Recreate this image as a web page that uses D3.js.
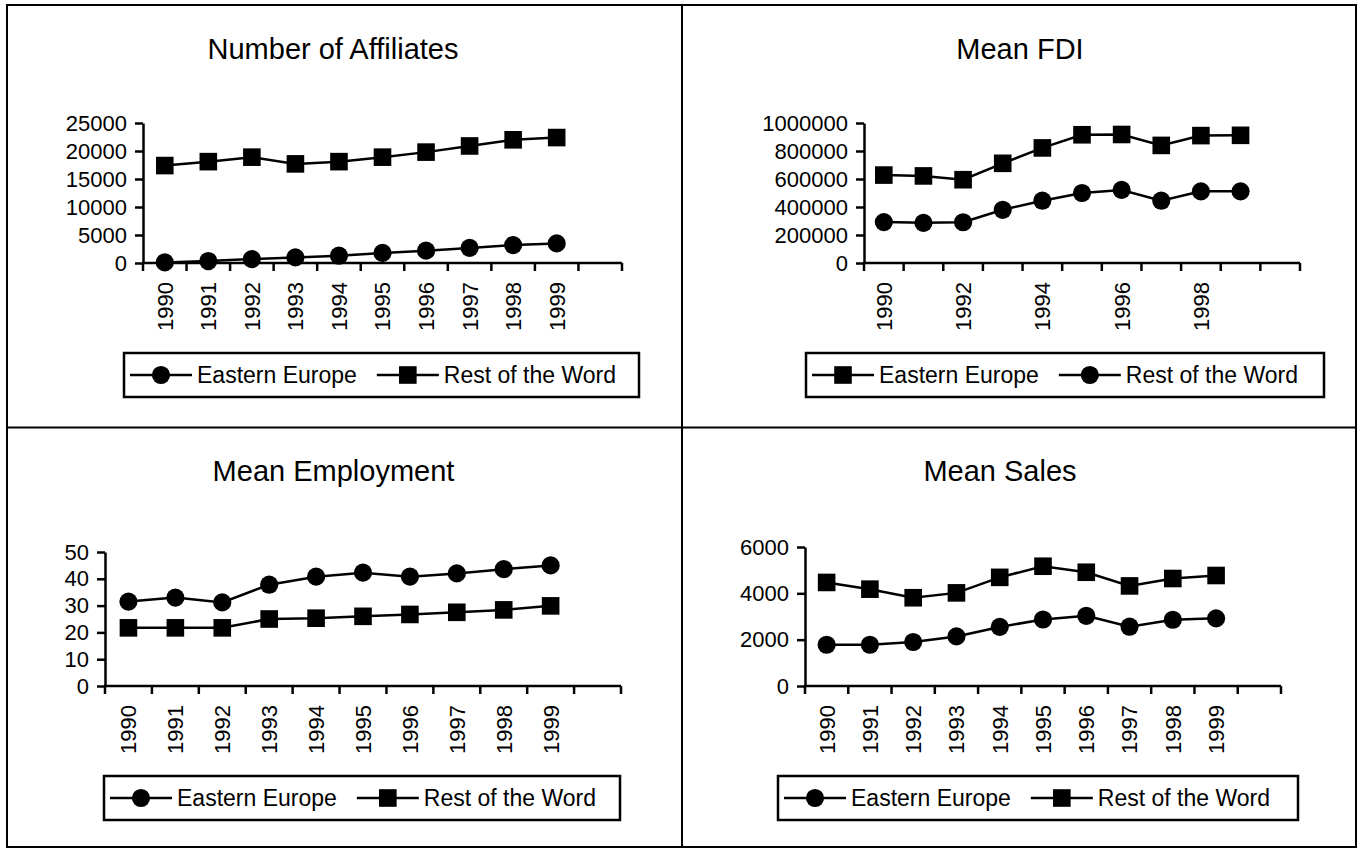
<!DOCTYPE html>
<html>
<head>
<meta charset="utf-8">
<script src="https://cdn.jsdelivr.net/npm/d3@7"></script>
<style>
  body { margin: 0; background: #fff; }
  svg { display: block; font-family: "Liberation Sans", Arial, sans-serif; }
</style>
</head>
<body>
<div id="chart"></div>
<script>
// Data
const years = ['1990', '1991', '1992', '1993', '1994', '1995', '1996', '1997', '1998', '1999'];
const seriesNames = ['Eastern Europe', 'Rest of the Word'];

const affiliatesEE  = [100, 350, 700, 1000, 1300, 1800, 2200, 2700, 3200, 3500];
const affiliatesRoW = [17400, 18100, 18900, 17700, 18100, 18900, 19800, 20900, 22000, 22400];
const affiliatesTicks = [0, 5000, 10000, 15000, 20000, 25000];

const fdiEE  = [628000, 622000, 595000, 712000, 822000, 916000, 918000, 840000, 910000, 912000];
const fdiRoW = [292000, 287000, 291000, 380000, 445000, 500000, 522000, 445000, 512000, 512000];
const fdiTicks = [0, 200000, 400000, 600000, 800000, 1000000];

const employmentEE  = [31.5, 33, 31.2, 37.8, 40.8, 42.3, 40.8, 42, 43.6, 45];
const employmentRoW = [21.7, 21.7, 21.7, 25, 25.3, 26, 26.7, 27.5, 28.4, 29.9];
const employmentTicks = [0, 10, 20, 30, 40, 50];

const salesEE  = [1780, 1780, 1900, 2140, 2550, 2870, 3030, 2560, 2860, 2920];
const salesRoW = [4470, 4180, 3810, 4020, 4690, 5170, 4910, 4320, 4640, 4770];
const salesTicks = [0, 2000, 4000, 6000];

const W = 1363, H = 851;

const svg = d3.select('#chart')
  .append('svg')
  .attr('width', W)
  .attr('height', H);

// outer frame and the two dividers
svg.append('rect')
  .attr('x', 7).attr('y', 5)
  .attr('width', 1349).attr('height', 842)
  .attr('fill', 'none').attr('stroke', '#000').attr('stroke-width', 2);
svg.append('line')
  .attr('x1', 682).attr('x2', 682).attr('y1', 5).attr('y2', 847)
  .attr('stroke', '#000').attr('stroke-width', 2);
svg.append('line')
  .attr('x1', 7).attr('x2', 1356).attr('y1', 427.5).attr('y2', 427.5)
  .attr('stroke', '#000').attr('stroke-width', 2);

const panels = [
  {
    title: 'Number of Affiliates', titleX: 333, titleY: 59,
    series: [affiliatesEE, affiliatesRoW], shapes: ['circle', 'square'],
    ticks: affiliatesTicks, labelStep: 1,
    x0: 143, x1: 622, yTop: 123, yBot: 263,
    legend: { x: 124, y: 353, w: 515, h: 44 }
  },
  {
    title: 'Mean FDI', titleX: 1020, titleY: 59,
    series: [fdiEE, fdiRoW], shapes: ['square', 'circle'],
    ticks: fdiTicks, labelStep: 2,
    x0: 864, x1: 1300, yTop: 123, yBot: 263,
    legend: { x: 806, y: 353, w: 518, h: 44 }
  },
  {
    title: 'Mean Employment', titleX: 333.5, titleY: 481,
    series: [employmentEE, employmentRoW], shapes: ['circle', 'square'],
    ticks: employmentTicks, labelStep: 1,
    x0: 105, x1: 621, yTop: 552, yBot: 686,
    legend: { x: 104, y: 776, w: 516, h: 44 }
  },
  {
    title: 'Mean Sales', titleX: 1000, titleY: 481,
    series: [salesEE, salesRoW], shapes: ['circle', 'square'],
    ticks: salesTicks, labelStep: 1,
    x0: 805, x1: 1281, yTop: 547, yBot: 686,
    legend: { x: 778, y: 776, w: 520, h: 44 }
  }
];

const markerPath = shape => d3.symbol()
  .type(shape === 'circle' ? d3.symbolCircle : d3.symbolSquare)
  .size(shape === 'circle' ? 260 : 310)();

panels.forEach(drawPanel);

function drawPanel(p) {
  const g = svg.append('g');

  // one empty slot after 1999, as in the reference
  const cats = years.concat(['']);
  const x = d3.scaleBand().domain(cats).range([p.x0, p.x1]);
  const y = d3.scaleLinear().domain([0, d3.max(p.ticks)]).range([p.yBot, p.yTop]);
  const cx = d => x(d) + x.bandwidth() / 2;

  // title
  g.append('text')
    .attr('x', p.titleX)
    .attr('y', p.titleY)
    .attr('text-anchor', 'middle')
    .attr('font-size', '29px')
    .text(p.title);

  // y axis
  const yAxis = d3.axisLeft(y)
    .tickValues(p.ticks)
    .tickSize(8)
    .tickSizeOuter(0)
    .tickPadding(8)
    .tickFormat(d3.format('d'));

  g.append('g')
    .attr('transform', `translate(${p.x0},0)`)
    .call(yAxis)
    .call(s => {
      s.attr('font-family', null).attr('font-size', null);
      s.select('.domain').attr('stroke-width', 2.5);
      s.selectAll('.tick line').attr('stroke-width', 2.5);
      s.selectAll('.tick text').attr('font-size', '22px').attr('fill', '#000');
    });

  // x axis line with ticks between categories
  g.append('line')
    .attr('x1', p.x0 - 1).attr('x2', p.x1)
    .attr('y1', p.yBot).attr('y2', p.yBot)
    .attr('stroke', '#000').attr('stroke-width', 2.5);

  g.selectAll('.xtick')
    .data(d3.range(cats.length + 1))
    .enter()
    .append('line')
    .attr('class', 'xtick')
    .attr('x1', i => p.x0 + i * x.step())
    .attr('x2', i => p.x0 + i * x.step())
    .attr('y1', p.yBot)
    .attr('y2', p.yBot + 8)
    .attr('stroke', '#000').attr('stroke-width', 2.5);

  // rotated year labels
  g.selectAll('.xlabel')
    .data(years.filter((d, i) => i % p.labelStep === 0))
    .enter()
    .append('text')
    .attr('class', 'xlabel')
    .attr('transform', d => `translate(${cx(d)},${p.yBot + 19}) rotate(-90)`)
    .attr('text-anchor', 'end')
    .attr('dy', '0.36em')
    .attr('font-size', '22px')
    .text(d => d);

  // series lines and markers
  const line = d3.line()
    .x((d, i) => cx(years[i]))
    .y(d => y(d));

  p.series.forEach((vals, si) => {
    g.append('path')
      .datum(vals)
      .attr('d', line)
      .attr('fill', 'none')
      .attr('stroke', '#000')
      .attr('stroke-width', 2.5);

    g.selectAll(`.mark${si}`)
      .data(vals)
      .enter()
      .append('path')
      .attr('class', `mark${si}`)
      .attr('transform', (d, i) => `translate(${cx(years[i])},${y(d)})`)
      .attr('d', markerPath(p.shapes[si]))
      .attr('fill', '#000');
  });

  // legend
  const lg = g.append('g');
  lg.append('rect')
    .attr('x', p.legend.x).attr('y', p.legend.y)
    .attr('width', p.legend.w).attr('height', p.legend.h)
    .attr('fill', '#fff').attr('stroke', '#000').attr('stroke-width', 2.5);

  const midY = p.legend.y + p.legend.h / 2;
  let lx = p.legend.x + 6;
  seriesNames.forEach((name, si) => {
    lg.append('line')
      .attr('x1', lx).attr('x2', lx + 62)
      .attr('y1', midY).attr('y2', midY)
      .attr('stroke', '#000').attr('stroke-width', 2.5);
    lg.append('path')
      .attr('transform', `translate(${lx + 31},${midY})`)
      .attr('d', markerPath(p.shapes[si]))
      .attr('fill', '#000');
    const t = lg.append('text')
      .attr('x', lx + 67)
      .attr('y', midY)
      .attr('dy', '0.36em')
      .attr('font-size', '23px')
      .text(name);
    lx = lx + 67 + t.node().getComputedTextLength() + 20;
  });
}
</script>
</body>
</html>
